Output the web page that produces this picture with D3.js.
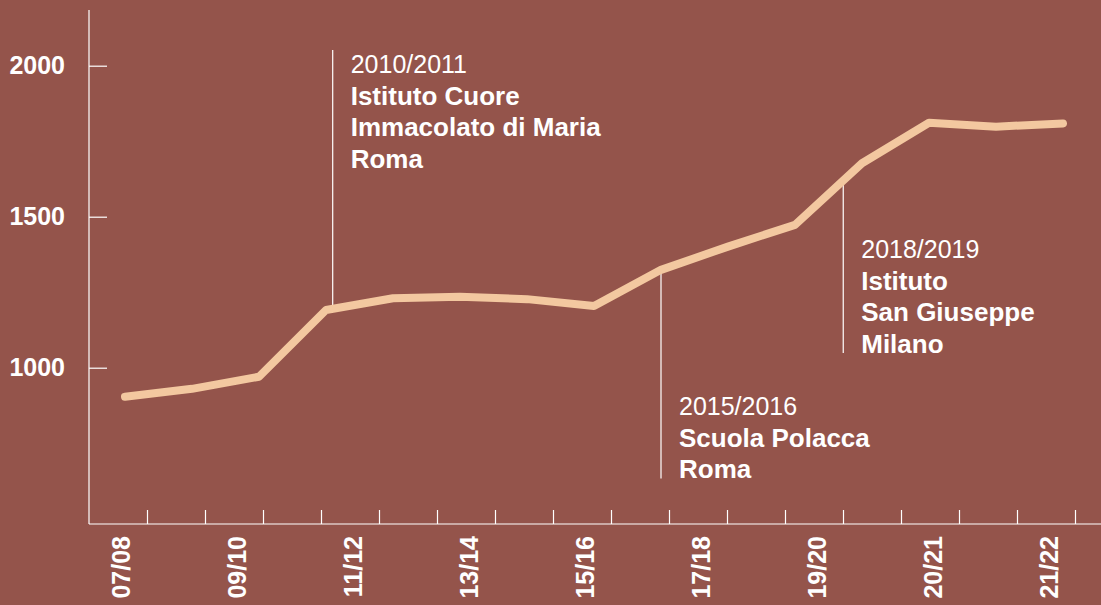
<!DOCTYPE html>
<html>
<head>
<meta charset="utf-8">
<script src="https://cdn.jsdelivr.net/npm/d3@7"></script>
<style>
  html, body { margin: 0; padding: 0; background: #94544b; }
  svg { display: block; }
  text { font-family: "Liberation Sans", Arial, Helvetica, sans-serif; fill: #fff; }
</style>
</head>
<body>
<div id="chart"></div>
<script>
/* DATA */
const seasons = ["07/08", "08/09", "09/10", "10/11", "11/12", "12/13", "13/14", "14/15",
  "15/16", "16/17", "17/18", "18/19", "19/20", "20/21", "21/22"];
const students = [904, 930, 970, 1191, 1230, 1235, 1227, 1204, 1324, 1401, 1473, 1677, 1811, 1798, 1809];
const yTicks = [1000, 1500, 2000];
const axisLabels = ["07/08", "09/10", "11/12", "13/14", "15/16", "17/18", "19/20", "20/21", "21/22"];
const noteYears = ["2010/2011", "2015/2016", "2018/2019"];
const noteLines = [
  ["Istituto Cuore", "Immacolato di Maria", "Roma"],
  ["Scuola Polacca", "Roma"],
  ["Istituto", "San Giuseppe", "Milano"]
];

/* LAYOUT */
const width = 1101,
  height = 605,
  margin = { top: 10, left: 89, bottom: 81 },
  axisBottomY = height - margin.bottom,
  lineHeight = 31.7,
  fontSize = 25,
  boldSize = 26;

// where each note sits along the season scale, and where its first text line goes
const noteLayout = [
  { at: 3.1, baseline: 73, above: true },
  { at: 8.0, baseline: 415, above: false },
  { at: 10.72, baseline: 258, above: false }
];

const svg = d3.select("#chart")
  .append("svg")
  .attr("width", width)
  .attr("height", height);

svg.append("rect")
  .attr("width", width)
  .attr("height", height)
  .attr("fill", "#94544b");

// scales
const xLine = d3.scaleLinear()
  .domain([0, seasons.length - 1])
  .range([125, 1063]);

const xSlots = d3.scaleLinear()
  .domain([0, 17])
  .range([margin.left, 1075]);

const yScale = d3.scaleLinear()
  .domain([1000, 2000])
  .range([367.7, 65.7]);

// y axis
svg.append("line")
  .attr("x1", margin.left).attr("x2", margin.left)
  .attr("y1", margin.top).attr("y2", axisBottomY)
  .attr("stroke", "#fff").attr("stroke-width", 1.2);

const yAxis = d3.axisLeft(yScale)
  .tickValues(yTicks)
  .tickSizeInner(-18)
  .tickSizeOuter(0)
  .tickPadding(24)
  .tickFormat(d3.format("d"));

svg.append("g")
  .attr("class", "axis y-axis")
  .attr("transform", `translate(${margin.left},0)`)
  .call(yAxis)
  .call(g => g.select(".domain").remove())
  .call(g => g.selectAll(".tick line").attr("stroke", "#fff").attr("stroke-width", 1.2))
  .call(g => g.selectAll(".tick text")
    .attr("fill", "#fff")
    .attr("font-size", fontSize)
    .attr("font-weight", "bold")
    .attr("font-family", "Liberation Sans, Arial, sans-serif"));

// x axis
svg.append("line")
  .attr("x1", margin.left).attr("x2", width)
  .attr("y1", axisBottomY).attr("y2", axisBottomY)
  .attr("stroke", "#fff").attr("stroke-width", 1.2);

const xAxis = d3.axisBottom(xSlots)
  .tickValues(d3.range(1, 18))
  .tickSizeInner(-14)
  .tickSizeOuter(0)
  .tickFormat("");

svg.append("g")
  .attr("class", "axis x-axis")
  .attr("transform", `translate(0,${axisBottomY})`)
  .call(xAxis)
  .call(g => g.select(".domain").remove())
  .call(g => g.selectAll(".tick line").attr("stroke", "#fff").attr("stroke-width", 1.2));

svg.append("g")
  .selectAll("text")
  .data(axisLabels)
  .join("text")
  .attr("transform", (d, i) => `translate(${xSlots(2 * i + 0.5) + 3},${axisBottomY + 12}) rotate(-90)`)
  .attr("text-anchor", "end")
  .attr("dy", "0.36em")
  .attr("font-size", fontSize)
  .attr("font-weight", "bold")
  .text(d => d);

// annotations
function lineYAt(f) {
  const i0 = Math.min(Math.floor(f), students.length - 2);
  const t = f - i0;
  return yScale(students[i0] + (students[i0 + 1] - students[i0]) * t);
}

const notes = noteYears.map((y, i) => ({ year: y, lines: noteLines[i], ...noteLayout[i] }));

const note = svg.append("g")
  .selectAll("g")
  .data(notes)
  .join("g");

note.append("line")
  .attr("x1", d => xLine(d.at)).attr("x2", d => xLine(d.at))
  .attr("y1", d => d.above ? d.baseline - 23 : lineYAt(d.at))
  .attr("y2", d => d.above ? lineYAt(d.at) : d.baseline + lineHeight * d.lines.length)
  .attr("stroke", "#fff")
  .attr("stroke-width", 1.2);

note.append("text")
  .attr("x", d => xLine(d.at) + 18)
  .attr("y", d => d.baseline)
  .attr("font-size", fontSize)
  .text(d => d.year);

note.each(function(d) {
  d3.select(this)
    .selectAll("text.school")
    .data(d.lines)
    .join("text")
    .attr("class", "school")
    .attr("x", xLine(d.at) + 18)
    .attr("y", (s, j) => d.baseline + lineHeight * (j + 1))
    .attr("font-size", boldSize)
    .attr("font-weight", "bold")
    .text(s => s);
});

// the line
const lineFunc = d3.line()
  .x((d, i) => xLine(i))
  .y(d => yScale(d));

svg.append("path")
  .datum(students)
  .attr("d", lineFunc)
  .attr("fill", "none")
  .attr("stroke", "#f3c8a0")
  .attr("stroke-width", 8)
  .attr("stroke-linecap", "round")
  .attr("stroke-linejoin", "round");
</script>
</body>
</html>
